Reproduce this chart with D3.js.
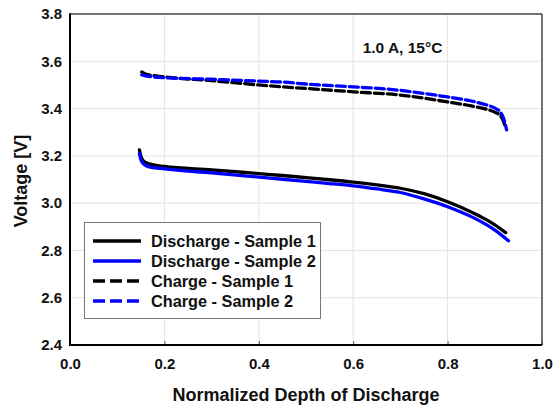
<!DOCTYPE html>
<html><head><meta charset="utf-8">
<script src="https://cdn.jsdelivr.net/npm/d3@7"></script>
<style>
html,body{margin:0;padding:0;background:#fff;}
svg{display:block;font-family:"Liberation Sans",Arial,sans-serif;}
</style></head>
<body><svg id="c" width="555" height="409"></svg>
<script>
const xTicks = [0.0, 0.2, 0.4, 0.6, 0.8, 1.0];
const yTicks = [2.4, 2.6, 2.8, 3.0, 3.2, 3.4, 3.6, 3.8];

const dis1X = [0.147,0.150,0.155,0.160,0.170,0.200,0.300,0.400,0.450,0.500,0.550,0.600,0.650,0.700,0.750,0.800,0.850,0.883,0.900,0.923];
const dis1V = [3.225,3.200,3.180,3.172,3.165,3.155,3.141,3.125,3.117,3.108,3.099,3.089,3.077,3.063,3.040,3.006,2.963,2.929,2.908,2.875];

const dis2X = [0.147,0.150,0.155,0.160,0.170,0.200,0.300,0.400,0.450,0.500,0.550,0.600,0.650,0.700,0.750,0.800,0.850,0.883,0.900,0.929];
const dis2V = [3.210,3.185,3.168,3.160,3.152,3.145,3.128,3.110,3.101,3.092,3.083,3.073,3.060,3.045,3.018,2.985,2.943,2.908,2.886,2.841];

const chg1X = [0.152,0.160,0.200,0.300,0.400,0.450,0.500,0.600,0.700,0.750,0.800,0.850,0.883,0.904,0.912,0.918,0.922];
const chg1V = [3.555,3.546,3.534,3.518,3.500,3.492,3.485,3.471,3.457,3.444,3.428,3.411,3.397,3.381,3.370,3.348,3.325];

const chg2X = [0.152,0.160,0.200,0.300,0.400,0.450,0.500,0.600,0.700,0.750,0.800,0.850,0.883,0.904,0.911,0.918,0.925];
const chg2V = [3.542,3.538,3.531,3.524,3.516,3.512,3.504,3.492,3.477,3.464,3.449,3.432,3.415,3.398,3.387,3.362,3.310];

const seriesNames = ["Discharge - Sample 1","Discharge - Sample 2","Charge - Sample 1","Charge - Sample 2"];
const seriesColors = ["#000000","#0000ff","#000000","#0000ff"];
const seriesDash = [null,null,"9,4","9,4"];

const svg = d3.select("#c");
const L=70, R=542, T=14, B=345;
const x = d3.scaleLinear().domain([0,1]).range([L,R]);
const y = d3.scaleLinear().domain([2.4,3.8]).range([B,T]);

// grid
const g = svg.append("g");
g.selectAll(".gx").data(xTicks.slice(1,-1)).enter().append("line")
  .attr("x1",d=>x(d)).attr("x2",d=>x(d)).attr("y1",T).attr("y2",B)
  .attr("stroke","#e3e3e3").attr("stroke-width",1);
g.selectAll(".gy").data(yTicks.slice(1,-1)).enter().append("line")
  .attr("y1",d=>y(d)).attr("y2",d=>y(d)).attr("x1",L).attr("x2",R)
  .attr("stroke","#e3e3e3").attr("stroke-width",1);

// axes
const xa = svg.append("g").attr("transform",`translate(0,${B})`)
  .call(d3.axisBottom(x).tickValues(xTicks).tickFormat(d3.format(".1f")).tickSizeInner(-4).tickSizeOuter(0));
const ya = svg.append("g").attr("transform",`translate(${L},0)`)
  .call(d3.axisLeft(y).tickValues(yTicks).tickFormat(d3.format(".1f")).tickSizeInner(0).tickSizeOuter(0).tickPadding(8));
[xa,ya].forEach(a=>{
  a.select(".domain").remove();
  a.selectAll("text").attr("font-size","15px").attr("font-weight","bold").attr("fill","#111")
   .attr("font-family","'Liberation Sans',Arial,sans-serif");
  a.selectAll("line").attr("stroke","#555");
});
xa.selectAll("text").attr("y",24).attr("dy",0);

// frame
svg.append("line").attr("x1",L).attr("x2",R).attr("y1",T).attr("y2",T).attr("stroke","#444").attr("stroke-width",1.5);
svg.append("line").attr("x1",R).attr("x2",R).attr("y1",T).attr("y2",B).attr("stroke","#444").attr("stroke-width",1.5);
svg.append("line").attr("x1",L).attr("x2",L).attr("y1",T-0.75).attr("y2",B+1).attr("stroke","#000").attr("stroke-width",2);
svg.append("line").attr("x1",L-1).attr("x2",R).attr("y1",B).attr("y2",B).attr("stroke","#000").attr("stroke-width",2);

// lines
const line = d3.line().x(d=>x(d[0])).y(d=>y(d[1])).curve(d3.curveMonotoneX);
const allX=[dis1X,dis2X,chg1X,chg2X], allV=[dis1V,dis2V,chg1V,chg2V];
allX.forEach((xs,i)=>{
  const pts = xs.map((v,j)=>[v,allV[i][j]]);
  svg.append("path").datum(pts).attr("d",line).attr("fill","none")
    .attr("stroke",seriesColors[i]).attr("stroke-width",3.3)
    .attr("stroke-linecap","round")
    .attr("stroke-dasharray",seriesDash[i]);
});

// annotation
svg.append("text").attr("x",402.5).attr("y",53).attr("text-anchor","middle")
  .attr("font-size","15.5px").attr("font-weight","bold").attr("fill","#111").text("1.0 A, 15°C");

// legend
const lg = svg.append("g");
lg.append("rect").attr("x",84.5).attr("y",222.5).attr("width",236).attr("height",96)
  .attr("fill","#fff").attr("stroke","#777").attr("stroke-width",1);
seriesNames.forEach((n,i)=>{
  const yy = 241 + i*20;
  lg.append("line").attr("x1",93).attr("x2",141).attr("y1",yy).attr("y2",yy)
    .attr("stroke",seriesColors[i]).attr("stroke-width",3.6)
    .attr("stroke-dasharray",seriesDash[i]?"12,5":null);
  lg.append("text").attr("x",151).attr("y",yy+5.5).attr("font-size","16.3px").attr("font-weight","bold")
    .attr("fill","#111").text(n);
});

// axis titles
svg.append("text").attr("x",306).attr("y",401).attr("text-anchor","middle")
  .attr("font-size","18px").attr("font-weight","bold").attr("fill","#111").text("Normalized Depth of Discharge");
svg.append("text").attr("transform","translate(27,181) rotate(-90)").attr("text-anchor","middle")
  .attr("font-size","18px").attr("font-weight","bold").attr("fill","#111").text("Voltage [V]");
</script></body></html>
